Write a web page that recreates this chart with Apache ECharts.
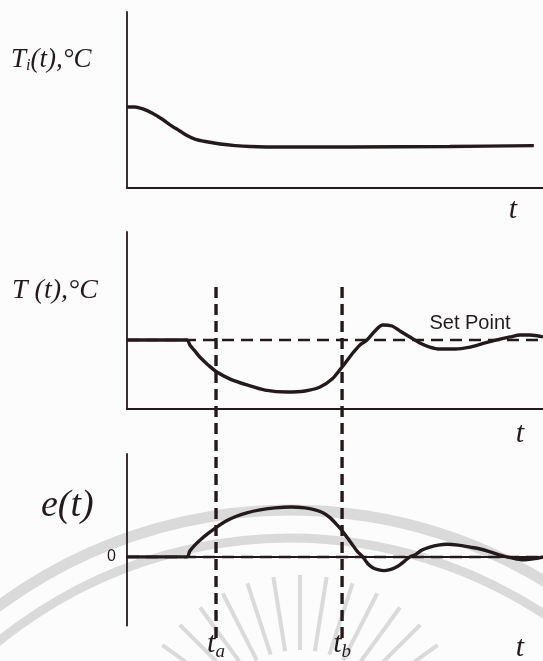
<!DOCTYPE html>
<html lang="en">
<head>
<meta charset="UTF-8">
<title>Temperature response</title>
<script src="https://cdn.jsdelivr.net/npm/echarts@6/dist/echarts.min.js"></script>
<style>
  *{margin:0;padding:0;}
  html,body{width:100%;height:100%;overflow:hidden;background:#fcfcfc;}
  #chart{width:543px;height:661px;}
</style>
</head>
<body>
<div id="chart"></div>
<script>
  // inlet temperature Ti(t)
  const tiTime = [0, 0.19, 0.38, 0.6, 0.84, 1.08, 1.27, 1.42, 1.63, 1.88, 2.24, 2.6, 2.96, 3.68, 5.36, 7.76, 9.78];
  const tiTemp = [4.6, 4.6, 4.49, 4.26, 3.92, 3.52, 3.24, 3.01, 2.78, 2.64, 2.5, 2.41, 2.36, 2.33, 2.33, 2.36, 2.41];

  // tank temperature T(t) and the set point
  const tTime = [0, 1.44, 1.51, 1.63, 1.75, 1.95, 2.16, 2.48, 2.88, 3.32, 3.85, 4.28, 4.64, 4.93, 5.17, 5.41, 5.6, 5.77, 5.96, 6.15, 6.37, 6.56, 6.8, 7.04, 7.28, 7.52, 7.88, 8.25, 8.61, 8.89, 9.21, 9.45, 9.69, 10];
  const tTemp = [3.9, 3.9, 3.62, 3.28, 2.94, 2.49, 2.09, 1.69, 1.36, 1.07, 0.96, 1.02, 1.24, 1.69, 2.37, 3.11, 3.62, 3.9, 4.41, 4.75, 4.69, 4.41, 4.07, 3.73, 3.5, 3.39, 3.39, 3.5, 3.73, 3.9, 4.07, 4.18, 4.18, 4.07];
  const setPoint = 3.9;

  // error e(t)
  const eTime = [0, 1.44, 1.51, 1.63, 1.78, 1.95, 2.14, 2.36, 2.6, 2.88, 3.2, 3.56, 3.94, 4.28, 4.52, 4.71, 4.88, 5.02, 5.17, 5.29, 5.41, 5.53, 5.67, 5.79, 5.91, 6.03, 6.18, 6.32, 6.44, 6.56, 6.68, 6.8, 6.92, 7.09, 7.28, 7.48, 7.69, 7.96, 8.25, 8.49, 8.73, 8.97, 9.25, 9.52, 9.76, 10];
  const eVal = [0, 0, 0.34, 0.69, 1.03, 1.37, 1.71, 2.06, 2.34, 2.57, 2.74, 2.86, 2.91, 2.86, 2.74, 2.57, 2.29, 1.94, 1.54, 1.14, 0.74, 0.34, 0, -0.4, -0.63, -0.74, -0.8, -0.74, -0.63, -0.46, -0.23, 0, 0.11, 0.4, 0.57, 0.69, 0.74, 0.69, 0.57, 0.46, 0.29, 0.11, -0.06, -0.17, -0.11, 0];

  // instants t_a and t_b
  const markTimes = [2.14, 5.17];
  const markSubs = ['a', 'b'];

  const ink = '#241a1c';
  const serif = 'Liberation Serif';
  const wm = 'rgba(150,150,150,0.33)';
  const zip = (xs, ys) => xs.map((x, i) => [x, ys[i]]);

  let chart = echarts.init(document.getElementById('chart'));

  function xAxis(grid, extra) {
    return Object.assign({
      type: 'value', gridIndex: grid, min: 0, max: 10,
      axisLine: {show: true, lineStyle: {color: ink, width: 1.8}},
      axisTick: {show: false}, axisLabel: {show: false}, splitLine: {show: false}
    }, extra || {});
  }
  function yAxis(grid, min, max, extra) {
    return Object.assign({
      type: 'value', gridIndex: grid, min: min, max: max,
      axisLine: {show: true, lineStyle: {color: ink, width: 1.8}},
      axisTick: {show: false}, axisLabel: {show: false}, splitLine: {show: false}
    }, extra || {});
  }
  function dashedRef(value) {
    return {
      silent: true, symbol: 'none', label: {show: false},
      lineStyle: {color: ink, type: [12, 7], width: 2.4},
      data: [{yAxis: value}]
    };
  }
  const solid = {color: ink, width: 3.4};

  let series = [
    {type: 'line', xAxisIndex: 0, yAxisIndex: 0, data: zip(tiTime, tiTemp),
      smooth: 0.3, symbol: 'none', lineStyle: solid, z: 5},
    {type: 'line', xAxisIndex: 1, yAxisIndex: 1, data: zip(tTime, tTemp),
      smooth: 0.3, symbol: 'none', lineStyle: solid, z: 5,
      markLine: dashedRef(setPoint)},
    {type: 'line', xAxisIndex: 2, yAxisIndex: 2, data: zip(eTime, eVal),
      smooth: 0.3, symbol: 'none', lineStyle: solid, z: 5,
      markLine: dashedRef(0)}
  ];
  markTimes.forEach(t => {
    series.push({
      type: 'line', xAxisIndex: 3, yAxisIndex: 3, data: [[t, 0], [t, 1]],
      symbol: 'none', silent: true, z: 3,
      lineStyle: {color: ink, width: 3.4, type: [11, 6]}
    });
  });

  // faint watermark seal left by the scan
  let watermark = [
    {type: 'arc', z: -10, silent: true, shape: {cx: 290, cy: 1000, r: 490, startAngle: Math.PI * 1.05, endAngle: Math.PI * 1.95},
      style: {stroke: wm, lineWidth: 11, fill: null}},
    {type: 'arc', z: -10, silent: true, shape: {cx: 290, cy: 1000, r: 462, startAngle: Math.PI * 1.05, endAngle: Math.PI * 1.95},
      style: {stroke: wm, lineWidth: 9, fill: null}}
  ];
  for (let k = 0; k < 15; k++) {
    let a = Math.PI * (1.15 + k * 0.05);
    watermark.push({type: 'line', z: -10, silent: true,
      shape: {x1: 300 + 95 * Math.cos(a), y1: 745 + 95 * Math.sin(a), x2: 300 + 170 * Math.cos(a), y2: 745 + 170 * Math.sin(a)},
      style: {stroke: wm, lineWidth: 4}});
  }

  let option = {
    backgroundColor: '#fcfcfc',
    animation: false,
    grid: [
      {left: 127, right: 0, top: 12, height: 176},
      {left: 127, right: 0, top: 232, height: 177},
      {left: 127, right: 0, top: 454, height: 175},
      {left: 127, right: 0, top: 284, height: 354}
    ],
    xAxis: [
      xAxis(0), xAxis(1),
      xAxis(2, {
        axisLabel: {
          show: true, customValues: markTimes, margin: 3,
          formatter: v => '{t|t}{s|' + markSubs[markTimes.indexOf(v)] + '}',
          rich: {
            t: {fontFamily: serif, fontStyle: 'italic', fontSize: 30, color: ink, lineHeight: 32},
            s: {fontFamily: serif, fontStyle: 'italic', fontSize: 19, color: ink, lineHeight: 32, padding: [14, 0, 0, 0]}
          }
        }
      }),
      xAxis(3, {show: false})
    ],
    yAxis: [
      yAxis(0, 0, 10), yAxis(1, 0, 10),
      yAxis(2, -4, 6, {
        interval: 2,
        axisLabel: {show: true, margin: 11, color: ink, fontFamily: 'Liberation Sans', fontSize: 16,
          formatter: v => v === 0 ? '0' : ''}
      }),
      yAxis(3, 0, 1, {show: false})
    ],
    graphic: watermark.concat([
      {type: 'text', x: 11, y: 60, style: {
        text: '{m|T}{s|i}{m|(t),°C}', verticalAlign: 'middle',
        rich: {
          m: {fontFamily: serif, fontStyle: 'italic', fontSize: 27, fill: ink, lineHeight: 30},
          s: {fontFamily: serif, fontStyle: 'italic', fontSize: 16, fill: ink, lineHeight: 30, padding: [12, 0, 0, 0]}
        }}},
      {type: 'text', x: 12, y: 291, style: {
        text: 'T (t),°C', fill: ink, verticalAlign: 'middle',
        font: 'italic 28px "Liberation Serif"'}},
      {type: 'text', x: 41, y: 506, style: {
        text: 'e(t)', fill: ink, verticalAlign: 'middle',
        font: 'italic 38px "Liberation Serif"'}},
      {type: 'text', x: 470, y: 323, style: {
        text: 'Set Point', fill: ink, align: 'center', verticalAlign: 'middle',
        font: '20px "Liberation Sans"'}},
      {type: 'text', x: 513, y: 210, style: {
        text: 't', fill: ink, align: 'center', verticalAlign: 'middle',
        font: 'italic 30px "Liberation Serif"'}},
      {type: 'text', x: 520, y: 434, style: {
        text: 't', fill: ink, align: 'center', verticalAlign: 'middle',
        font: 'italic 30px "Liberation Serif"'}},
      {type: 'text', x: 520, y: 648, style: {
        text: 't', fill: ink, align: 'center', verticalAlign: 'middle',
        font: 'italic 30px "Liberation Serif"'}}
    ]),
    series
  };

  chart.setOption(option);
</script>
</body>
</html>
